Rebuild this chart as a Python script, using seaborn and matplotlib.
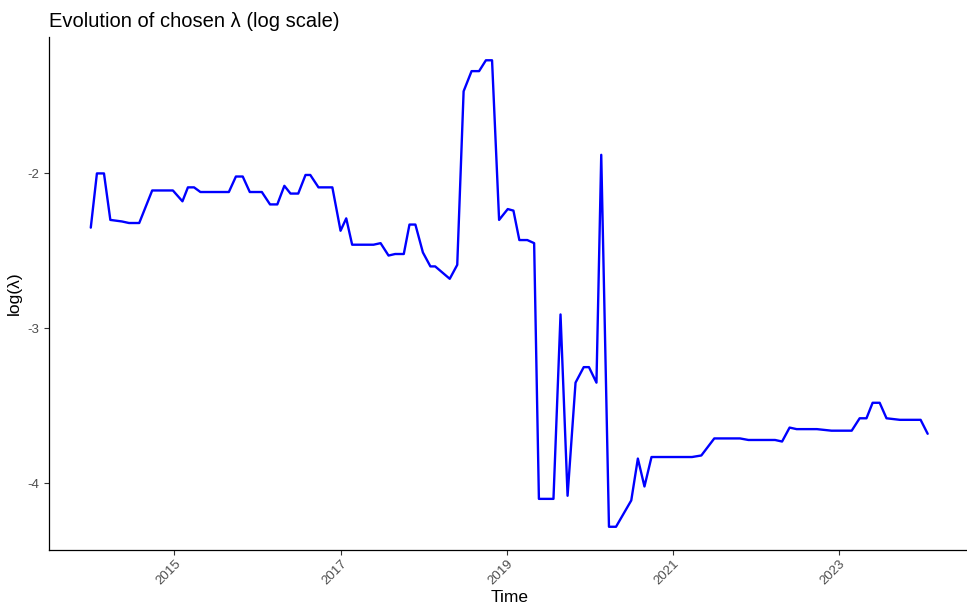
import matplotlib
matplotlib.use("Agg")
import matplotlib.pyplot as plt
import seaborn as sns
import pandas as pd

# Chosen penalty (log lambda) at each re-estimation date
dates = [
    "2013-12-29", "2014-01-25", "2014-02-25", "2014-03-25", "2014-05-15", "2014-06-15",
    "2014-07-30", "2014-09-25", "2014-11-15", "2014-12-25", "2015-02-05", "2015-03-01",
    "2015-03-28", "2015-04-25", "2015-06-01", "2015-08-28", "2015-09-28", "2015-10-28",
    "2015-11-28", "2016-01-20", "2016-02-25", "2016-03-28", "2016-04-28", "2016-05-25",
    "2016-06-28", "2016-07-30", "2016-08-20", "2016-09-25", "2016-10-25", "2016-11-25",
    "2016-12-31", "2017-01-25", "2017-02-20", "2017-05-25", "2017-06-25", "2017-07-30",
    "2017-08-28", "2017-10-05", "2017-10-30", "2017-11-25", "2017-12-28", "2018-01-30",
    "2018-02-20", "2018-04-25", "2018-05-28", "2018-06-25", "2018-07-30", "2018-09-01",
    "2018-10-01", "2018-10-28", "2018-11-28", "2019-01-05", "2019-01-30", "2019-02-25",
    "2019-04-01", "2019-05-01", "2019-05-22", "2019-07-25", "2019-08-25", "2019-09-25",
    "2019-10-30", "2019-12-05", "2019-12-28", "2020-01-30", "2020-02-20", "2020-03-25",
    "2020-04-25", "2020-07-01", "2020-07-30", "2020-08-28", "2020-09-28", "2021-03-25",
    "2021-05-05", "2021-07-01", "2021-07-25", "2021-10-22", "2021-11-28", "2022-03-25",
    "2022-04-25", "2022-05-28", "2022-06-28", "2022-09-25", "2022-11-28", "2023-02-25",
    "2023-04-01", "2023-05-01", "2023-05-28", "2023-06-28", "2023-07-28", "2023-09-25",
    "2023-12-25", "2024-01-25",
]
log_lambda = [
    -2.35, -2.00, -2.00, -2.30, -2.31, -2.32,
    -2.32, -2.11, -2.11, -2.11, -2.18, -2.09,
    -2.09, -2.12, -2.12, -2.12, -2.02, -2.02,
    -2.12, -2.12, -2.20, -2.20, -2.08, -2.13,
    -2.13, -2.01, -2.01, -2.09, -2.09, -2.09,
    -2.37, -2.29, -2.46, -2.46, -2.45, -2.53,
    -2.52, -2.52, -2.33, -2.33, -2.51, -2.60,
    -2.60, -2.68, -2.59, -1.47, -1.34, -1.34,
    -1.27, -1.27, -2.30, -2.23, -2.24, -2.43,
    -2.43, -2.45, -4.10, -4.10, -2.91, -4.08,
    -3.35, -3.25, -3.25, -3.35, -1.88, -4.28,
    -4.28, -4.11, -3.84, -4.02, -3.83, -3.83,
    -3.82, -3.71, -3.71, -3.71, -3.72, -3.72,
    -3.73, -3.64, -3.65, -3.65, -3.66, -3.66,
    -3.58, -3.58, -3.48, -3.48, -3.58, -3.59,
    -3.59, -3.68,
]

x_tick_years = ["2015", "2017", "2019", "2021", "2023"]
y_ticks = [-2, -3, -4]

df = pd.DataFrame({"Time": pd.to_datetime(dates), "loglambda": log_lambda})

sns.set_theme(style="ticks")
plt.rcParams["font.family"] = ["Liberation Sans", "DejaVu Sans"]

fig = plt.figure(figsize=(9.67, 6.16), dpi=100)
ax = fig.add_axes([0.0506, 0.107, 0.952, 0.833])

sns.lineplot(data=df, x="Time", y="loglambda", ax=ax, color="#0000FF", linewidth=1.7)

ax.margins(x=0.05, y=0.05)

ax.set_xticks([pd.Timestamp(f"{y}-01-01") for y in x_tick_years])
ax.set_xticklabels(x_tick_years, rotation=45, ha="right", rotation_mode="anchor")
ax.set_yticks(y_ticks)
ax.set_yticklabels([str(v) for v in y_ticks])

ax.tick_params(axis="both", colors="#333333", labelcolor="#4D4D4D", labelsize=9.5,
               length=3.5, width=0.8)
ax.tick_params(axis="x", pad=2)
for side in ("top", "right"):
    ax.spines[side].set_visible(False)
for side in ("left", "bottom"):
    ax.spines[side].set_color("black")
    ax.spines[side].set_linewidth(0.9)

ax.set_xlabel("Time", fontsize=12.5, color="black", labelpad=2)
ax.set_ylabel("log(λ)", fontsize=12.5, color="black", labelpad=4)
ax.set_title("Evolution of chosen λ (log scale)", loc="left", fontsize=14.5, color="black", pad=7)
ax.grid(False)

fig.savefig("out.png", dpi=100)
